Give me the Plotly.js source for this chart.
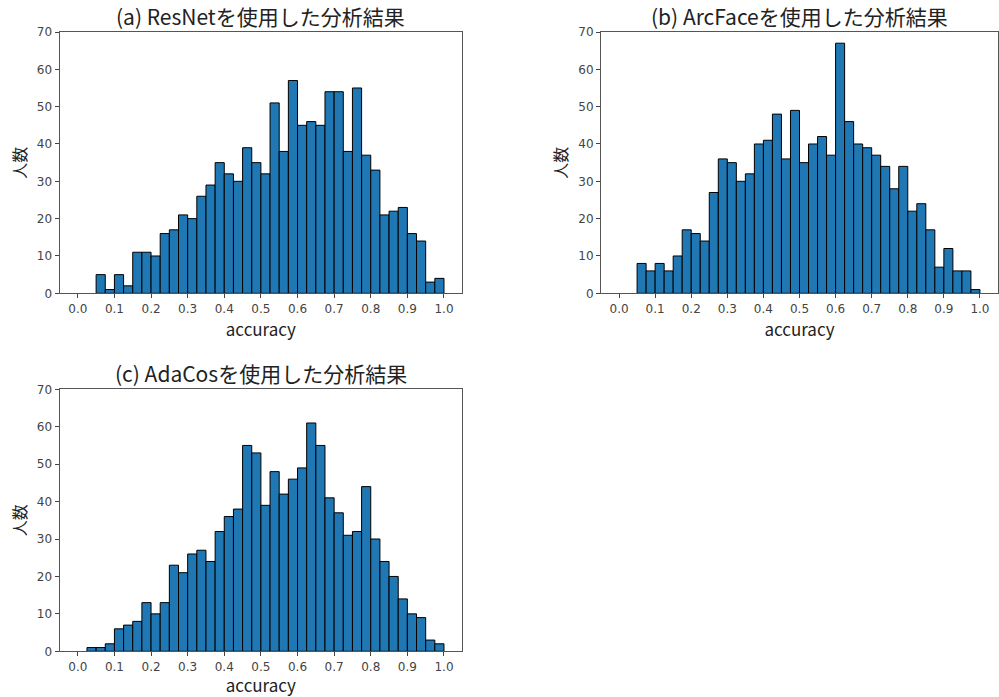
<!DOCTYPE html>
<html>
<head>
<meta charset="utf-8">
<script src="https://cdn.plot.ly/plotly-3.0.1.min.js"></script>
<style>html,body{margin:0;padding:0;background:#fff;}#chart{width:999px;height:697px;}</style>
</head>
<body>
<div id="chart"></div>
<script>
// Left edges of histogram bins (bin width 0.025)
const binLeft = [0.000,0.025,0.050,0.075,0.100,0.125,0.150,0.175,0.200,0.225,
                 0.250,0.275,0.300,0.325,0.350,0.375,0.400,0.425,0.450,0.475,
                 0.500,0.525,0.550,0.575,0.600,0.625,0.650,0.675,0.700,0.725,
                 0.750,0.775,0.800,0.825,0.850,0.875,0.900,0.925,0.950,0.975];
const binWidth = 0.025;

// (a) ResNet counts
const countsResNet = [0,0,5,1,5,2,11,11,10,16,
                      17,21,20,26,29,35,32,30,39,35,
                      32,51,38,57,45,46,45,54,54,38,
                      55,37,33,21,22,23,16,14,3,4];
// (b) ArcFace counts
const countsArcFace = [0,0,8,6,8,6,10,17,16,14,
                       27,36,35,30,32,40,41,48,36,49,
                       35,40,42,37,67,46,40,39,37,34,
                       28,34,22,24,17,7,12,6,6,1];
// (c) AdaCos counts
const countsAdaCos = [0,1,1,2,6,7,8,13,10,13,
                      23,21,26,27,24,32,36,38,55,53,
                      39,48,42,46,49,61,55,41,37,31,
                      32,44,30,24,20,14,10,9,3,2];

const titles = ['(a) ResNetを使用した分析結果','(b) ArcFaceを使用した分析結果','(c) AdaCosを使用した分析結果'];
const xTitle = 'accuracy';
const yTitle = '人数';
const xTicks = [0.0,0.1,0.2,0.3,0.4,0.5,0.6,0.7,0.8,0.9,1.0];
const yTicks = [0,10,20,30,40,50,60,70];

const FONT = '"Noto Sans CJK JP", "Noto Sans", sans-serif';
const TICKFONT = '"DejaVu Sans", sans-serif';
const series = [countsResNet, countsArcFace, countsAdaCos];
const axisIds = [['x','y'],['x2','y2'],['x3','y3']];

const traces = series.map((c,i)=>({
  type:'bar', x:binLeft, y:c.map(v=> v===0 ? null : v), width:binWidth, offset:0,
  xaxis:axisIds[i][0], yaxis:axisIds[i][1],
  marker:{color:'#1f77b4', line:{color:'#000', width:1}},
  hoverinfo:'x+y', showlegend:false
}));

const W=999,H=697;
const doms = [
  {x:[59.5/W, 462.3/W], y:[1-293.3/H, 1-32/H]},
  {x:[601/W, 998/W],   y:[1-293.3/H, 1-32/H]},
  {x:[59.5/W, 462.3/W], y:[1-651.3/H, 1-389.3/H]}
];

function xax(i){
  return {domain:doms[i].x, anchor:axisIds[i][1], range:[-0.05,1.05],
    tickvals:xTicks, tickformat:'.1f', ticks:'outside', ticklen:4, tickwidth:1, tickcolor:'#444',
    showline:true, linecolor:'#555', linewidth:1, mirror:true, showgrid:false, zeroline:false,
    tickfont:{family:TICKFONT,size:12,color:'#444'},
    title:{text:xTitle, font:{family:FONT,size:17,color:'#222'}, standoff:3}};
}
function yax(i){
  return {domain:doms[i].y, anchor:axisIds[i][0], range:[0,70],
    tickvals:yTicks, ticks:'outside', ticklen:4, tickwidth:1, tickcolor:'#444',
    showline:true, linecolor:'#555', linewidth:1, mirror:true, showgrid:false, zeroline:false,
    tickfont:{family:TICKFONT,size:12,color:'#444'},
    title:{text:yTitle, font:{family:FONT,size:16,color:'#222'}, standoff:6}};
}

const layout = {
  width:W, height:H, margin:{l:0,r:0,t:0,b:0},
  paper_bgcolor:'#fff', plot_bgcolor:'#fff', bargap:0,
  font:{family:FONT},
  xaxis:xax(0), yaxis:yax(0), xaxis2:xax(1), yaxis2:yax(1), xaxis3:xax(2), yaxis3:yax(2),
  annotations: titles.map((t,i)=>({
    text:t, xref:'paper', yref:'paper',
    x:(doms[i].x[0]+doms[i].x[1])/2, y:doms[i].y[1], yshift:-1,
    xanchor:'center', yanchor:'bottom', showarrow:false,
    font:{family:FONT,size:21,color:'#222'}
  }))
};

Plotly.newPlot('chart', traces, layout, {staticPlot:true, displayModeBar:false});
</script>
</body>
</html>
